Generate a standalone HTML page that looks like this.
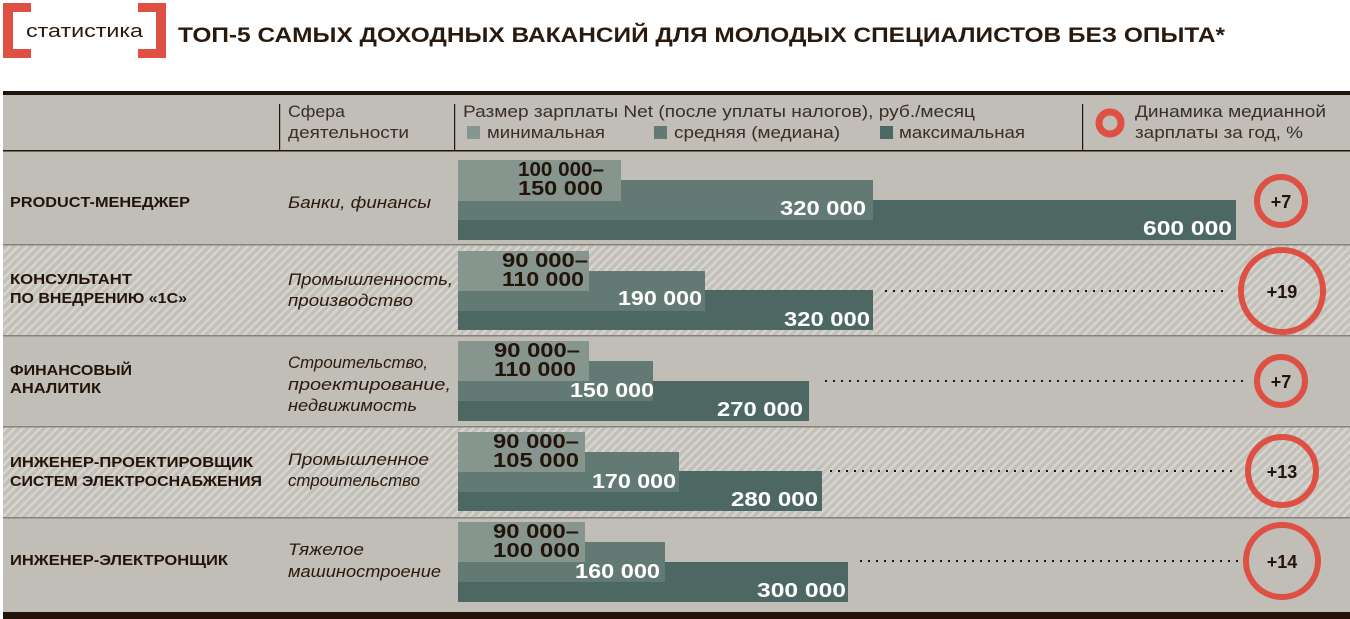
<!DOCTYPE html>
<html><head><meta charset="utf-8"><style>
html,body{margin:0;padding:0;background:#fff;}
svg{display:block;}
text{font-family:"Liberation Sans","DejaVu Sans",sans-serif;}
</style></head><body>
<svg width="1350" height="619" viewBox="0 0 1350 619" xmlns="http://www.w3.org/2000/svg">
<defs>
<pattern id="h" patternUnits="userSpaceOnUse" width="6" height="6" patternTransform="rotate(45)">
<rect width="6" height="6" fill="#c2c0b8"/><rect width="2.5" height="6" fill="#d6d4ce"/>
</pattern>
</defs>
<rect width="1350" height="619" fill="#fff"/>
<g fill="#de4f44">
<rect x="3" y="3" width="10" height="55"/><rect x="3" y="3" width="28" height="9"/><rect x="3" y="49" width="28" height="9"/>
<rect x="156" y="3" width="10" height="55"/><rect x="138" y="3" width="28" height="9"/><rect x="138" y="49" width="28" height="9"/>
</g>
<text x="26" y="37" font-size="18" fill="#2a1a0e" textLength="117" lengthAdjust="spacingAndGlyphs">статистика</text>
<text x="178" y="42" font-size="21" font-weight="bold" fill="#2a1a0e" textLength="1047" lengthAdjust="spacingAndGlyphs">ТОП-5 САМЫХ ДОХОДНЫХ ВАКАНСИЙ ДЛЯ МОЛОДЫХ СПЕЦИАЛИСТОВ БЕЗ ОПЫТА*</text>
<rect x="3" y="91" width="1347" height="525" fill="#c0beb6"/>
<rect x="3" y="245" width="1347" height="91" fill="url(#h)"/>
<rect x="3" y="427" width="1347" height="91" fill="url(#h)"/>
<rect x="3" y="91" width="1347" height="4" fill="#23140a"/>
<rect x="3" y="150" width="1347" height="1.5" fill="#23140a"/>
<g fill="#85837b"><rect x="3" y="244" width="1347" height="1.5"/><rect x="3" y="335" width="1347" height="1.5"/><rect x="3" y="426" width="1347" height="1.5"/><rect x="3" y="517" width="1347" height="1.5"/></g>
<rect x="3" y="612" width="1347" height="7" fill="#23140a"/>
<g fill="#23140a"><rect x="279" y="104" width="1.2" height="47"/><rect x="454" y="104" width="1.2" height="47"/><rect x="1082" y="104" width="1.2" height="47"/></g>
<g font-size="17" fill="#3a2e26">
<text x="288" y="117" textLength="57" lengthAdjust="spacingAndGlyphs">Сфера</text><text x="288" y="138" textLength="121" lengthAdjust="spacingAndGlyphs">деятельности</text>
<text x="463" y="117" textLength="512" lengthAdjust="spacingAndGlyphs">Размер зарплаты Net (после уплаты налогов), руб./месяц</text>
<rect x="467" y="126" width="13" height="13" fill="#86968f"/><text x="487" y="138" textLength="118" lengthAdjust="spacingAndGlyphs">минимальная</text>
<rect x="654" y="126" width="13" height="13" fill="#627a73"/><text x="674" y="138" textLength="166" lengthAdjust="spacingAndGlyphs">средняя (медиана)</text>
<rect x="880" y="126" width="13" height="13" fill="#4d6863"/><text x="899" y="138" textLength="126" lengthAdjust="spacingAndGlyphs">максимальная</text>
<text x="1135" y="117" textLength="191" lengthAdjust="spacingAndGlyphs">Динамика медианной</text><text x="1135" y="138" textLength="168" lengthAdjust="spacingAndGlyphs">зарплаты за год, %</text>
</g>
<circle cx="1110" cy="123" r="11" fill="none" stroke="#de4f44" stroke-width="7"/>
<g font-size="15" font-weight="bold" fill="#23140a">
<text x="10" y="207" textLength="180" lengthAdjust="spacingAndGlyphs">PRODUCT-МЕНЕДЖЕР</text>
<text x="10" y="284" textLength="122" lengthAdjust="spacingAndGlyphs">КОНСУЛЬТАНТ</text><text x="10" y="303" textLength="177" lengthAdjust="spacingAndGlyphs">ПО ВНЕДРЕНИЮ «1С»</text>
<text x="10" y="375" textLength="122" lengthAdjust="spacingAndGlyphs">ФИНАНСОВЫЙ</text><text x="10" y="393" textLength="91" lengthAdjust="spacingAndGlyphs">АНАЛИТИК</text>
<text x="10" y="467" textLength="243" lengthAdjust="spacingAndGlyphs">ИНЖЕНЕР-ПРОЕКТИРОВЩИК</text><text x="10" y="486" textLength="252" lengthAdjust="spacingAndGlyphs">СИСТЕМ ЭЛЕКТРОСНАБЖЕНИЯ</text>
<text x="10" y="565" textLength="218" lengthAdjust="spacingAndGlyphs">ИНЖЕНЕР-ЭЛЕКТРОНЩИК</text>
</g>
<g font-size="17" font-style="italic" fill="#2a1a0e">
<text x="288" y="208" textLength="143" lengthAdjust="spacingAndGlyphs">Банки, финансы</text>
<text x="288" y="285" textLength="165" lengthAdjust="spacingAndGlyphs">Промышленность,</text><text x="288" y="306" textLength="125" lengthAdjust="spacingAndGlyphs">производство</text>
<text x="288" y="368" textLength="140" lengthAdjust="spacingAndGlyphs">Строительство,</text><text x="288" y="390" textLength="163" lengthAdjust="spacingAndGlyphs">проектирование,</text><text x="288" y="411" textLength="129" lengthAdjust="spacingAndGlyphs">недвижимость</text>
<text x="288" y="465" textLength="141" lengthAdjust="spacingAndGlyphs">Промышленное</text><text x="288" y="486" textLength="132" lengthAdjust="spacingAndGlyphs">строительство</text>
<text x="288" y="555" textLength="76" lengthAdjust="spacingAndGlyphs">Тяжелое</text><text x="288" y="577" textLength="153" lengthAdjust="spacingAndGlyphs">машиностроение</text>
</g>
<g>
<rect x="458" y="200" width="778" height="40" fill="#4d6863"/><rect x="458" y="180" width="415" height="40" fill="#627a73"/><rect x="458" y="160" width="163" height="41" fill="#86968f"/>
<rect x="458" y="290" width="415" height="40" fill="#4d6863"/><rect x="458" y="271" width="247" height="40" fill="#627a73"/><rect x="458" y="251" width="131" height="40" fill="#86968f"/>
<rect x="458" y="381" width="351" height="40" fill="#4d6863"/><rect x="458" y="361" width="195" height="40" fill="#627a73"/><rect x="458" y="341" width="131" height="40" fill="#86968f"/>
<rect x="458" y="471" width="364" height="40" fill="#4d6863"/><rect x="458" y="452" width="221" height="40" fill="#627a73"/><rect x="458" y="432" width="127" height="40" fill="#86968f"/>
<rect x="458" y="562" width="390" height="40" fill="#4d6863"/><rect x="458" y="542" width="207" height="40" fill="#627a73"/><rect x="458" y="522" width="127" height="40" fill="#86968f"/>
</g>
<g font-size="20" font-weight="bold" fill="#23140a">
<text x="518" y="176" textLength="86" lengthAdjust="spacingAndGlyphs">100 000–</text><text x="518" y="195" textLength="85" lengthAdjust="spacingAndGlyphs">150 000</text>
<text x="502" y="267" textLength="86" lengthAdjust="spacingAndGlyphs">90 000–</text><text x="502" y="286" textLength="82" lengthAdjust="spacingAndGlyphs">110 000</text>
<text x="494" y="357" textLength="86" lengthAdjust="spacingAndGlyphs">90 000–</text><text x="494" y="376" textLength="82" lengthAdjust="spacingAndGlyphs">110 000</text>
<text x="493" y="448" textLength="86" lengthAdjust="spacingAndGlyphs">90 000–</text><text x="493" y="467" textLength="86" lengthAdjust="spacingAndGlyphs">105 000</text>
<text x="493" y="538" textLength="86" lengthAdjust="spacingAndGlyphs">90 000–</text><text x="493" y="557" textLength="87" lengthAdjust="spacingAndGlyphs">100 000</text>
</g>
<g font-size="20" font-weight="bold" fill="#fff">
<text x="780" y="215" textLength="86" lengthAdjust="spacingAndGlyphs">320 000</text><text x="1143" y="235" textLength="89" lengthAdjust="spacingAndGlyphs">600 000</text>
<text x="618" y="305" textLength="84" lengthAdjust="spacingAndGlyphs">190 000</text><text x="784" y="326" textLength="86" lengthAdjust="spacingAndGlyphs">320 000</text>
<text x="570" y="397" textLength="84" lengthAdjust="spacingAndGlyphs">150 000</text><text x="717" y="416" textLength="86" lengthAdjust="spacingAndGlyphs">270 000</text>
<text x="592" y="488" textLength="84" lengthAdjust="spacingAndGlyphs">170 000</text><text x="731" y="506" textLength="87" lengthAdjust="spacingAndGlyphs">280 000</text>
<text x="575" y="578" textLength="85" lengthAdjust="spacingAndGlyphs">160 000</text><text x="757" y="597" textLength="89" lengthAdjust="spacingAndGlyphs">300 000</text>
</g>
<g stroke="#23140a" stroke-width="2" stroke-dasharray="2 6">
<line x1="885" y1="291" x2="1225" y2="291"/>
<line x1="825" y1="381" x2="1248" y2="381"/>
<line x1="830" y1="471" x2="1238" y2="471"/>
<line x1="860" y1="561" x2="1238" y2="561"/>
</g>
<g fill="none" stroke="#de4f44" stroke-width="6">
<circle cx="1281" cy="201" r="24"/>
<circle cx="1282" cy="291" r="41"/>
<circle cx="1281" cy="381" r="24"/>
<circle cx="1282" cy="471" r="34"/>
<circle cx="1282" cy="561" r="36"/>
</g>
<g font-size="18" font-weight="bold" fill="#23140a" text-anchor="middle">
<text x="1281" y="208">+7</text><text x="1282" y="298">+19</text><text x="1281" y="388">+7</text><text x="1282" y="478">+13</text><text x="1282" y="568">+14</text>
</g>
</svg>
</body></html>
